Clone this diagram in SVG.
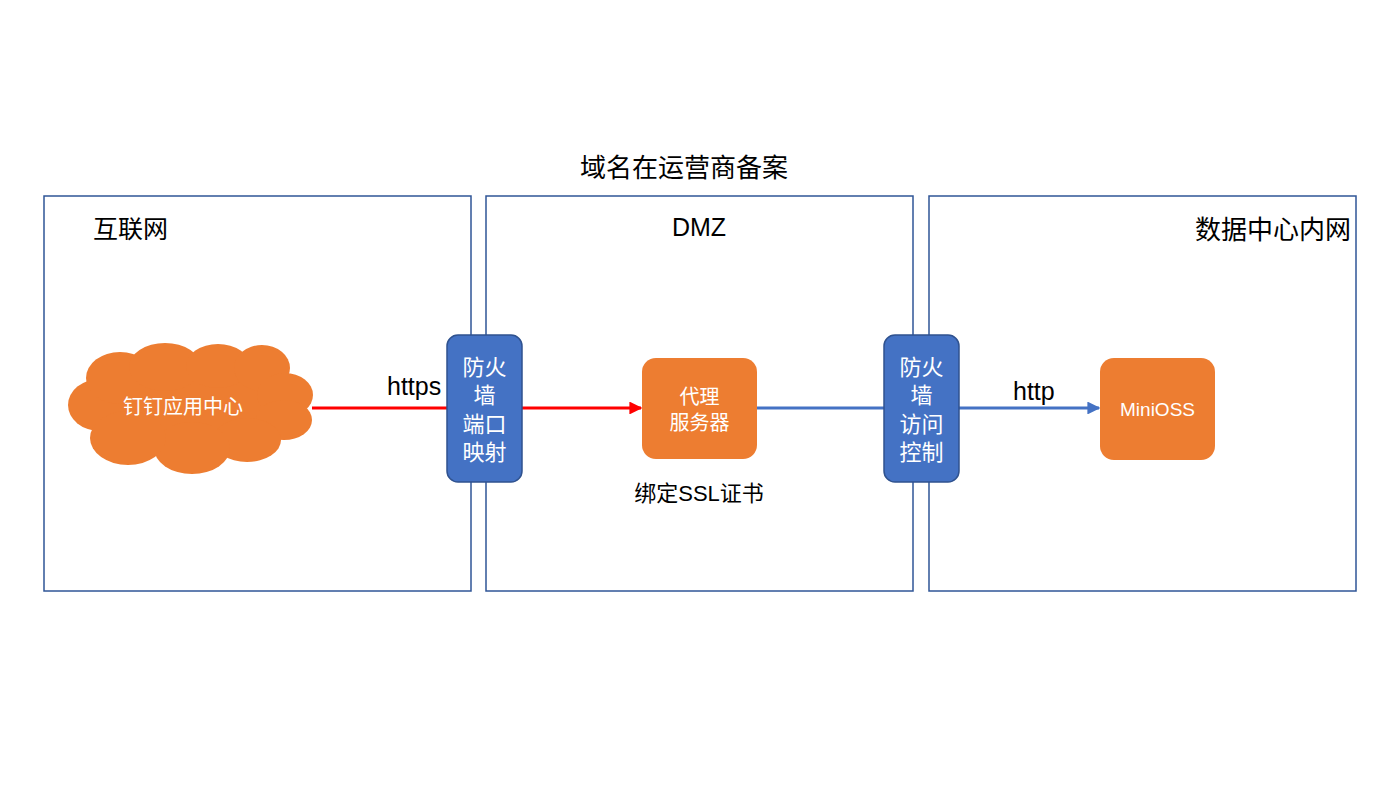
<svg xmlns="http://www.w3.org/2000/svg" width="1400" height="788" viewBox="0 0 1400 788">
<style>
text{font-family:"Liberation Sans","Noto Sans CJK SC",sans-serif;}
.zone{fill:none;stroke:#2F5597;stroke-width:1.5;}
.fw{fill:#4472C4;stroke:#2F528F;stroke-width:1.5;}
.fwt{fill:#fff;font-size:22px;text-anchor:middle;}
.org{fill:#ED7D31;}
.ot{fill:#fff;font-size:20px;text-anchor:middle;}
.lbl{fill:#000;font-size:25px;}
</style>
<defs>
<marker id="ar" viewBox="0 0 10 10" refX="9" refY="5" markerWidth="4.3" markerHeight="4.3" orient="auto"><path d="M0,0L10,5L0,10z" fill="#FF0000"/></marker>
<marker id="ab" viewBox="0 0 10 10" refX="9" refY="5" markerWidth="4.3" markerHeight="4.3" orient="auto"><path d="M0,0L10,5L0,10z" fill="#4472C4"/></marker>
</defs>
<rect width="1400" height="788" fill="#fff"/>
<text x="684" y="177" text-anchor="middle" style="font-size:26px">域名在运营商备案</text>
<g id="zone-internet"><rect class="zone" x="44" y="196" width="427" height="395"/><text class="lbl" x="93" y="238">互联网</text></g>
<g id="zone-dmz"><rect class="zone" x="486" y="196" width="427" height="395"/><text class="lbl" x="699" y="236" text-anchor="middle">DMZ</text></g>
<g id="zone-dc"><rect class="zone" x="929" y="196" width="427" height="395"/><text class="lbl" x="1351" y="239" text-anchor="end" style="font-size:26px">数据中心内网</text></g>
<g id="connectors">
<line x1="312" y1="408" x2="447" y2="408" stroke="#FF0000" stroke-width="3"/>
<line x1="522" y1="408" x2="641" y2="408" stroke="#FF0000" stroke-width="3" marker-end="url(#ar)"/>
<line x1="757" y1="408" x2="884" y2="408" stroke="#4472C4" stroke-width="3"/>
<line x1="959" y1="408" x2="1099" y2="408" stroke="#4472C4" stroke-width="3" marker-end="url(#ab)"/>
<text class="lbl" x="387" y="395">https</text>
<text class="lbl" x="1013" y="400">http</text>
</g>
<g id="cloud" class="org">
<ellipse cx="190" cy="408" rx="105" ry="50"/>
<ellipse cx="100" cy="405" rx="32" ry="26"/>
<ellipse cx="120" cy="378" rx="34" ry="26"/>
<ellipse cx="165" cy="367" rx="36" ry="24"/>
<ellipse cx="218" cy="366" rx="32" ry="22"/>
<ellipse cx="262" cy="368" rx="28" ry="23"/>
<ellipse cx="285" cy="395" rx="28" ry="22"/>
<ellipse cx="284" cy="420" rx="28" ry="20"/>
<ellipse cx="247" cy="440" rx="34" ry="22"/>
<ellipse cx="192" cy="448" rx="38" ry="26"/>
<ellipse cx="128" cy="438" rx="38" ry="27"/>
<text class="ot" x="183" y="414">钉钉应用中心</text>
</g>
<g id="fw1"><rect class="fw" x="447" y="335" width="75" height="147" rx="11"/>
<text class="fwt" x="484.5" y="375">防火</text><text class="fwt" x="484.5" y="403">墙</text><text class="fwt" x="484.5" y="432">端口</text><text class="fwt" x="484.5" y="460">映射</text></g>
<g id="proxy"><rect class="org" x="642" y="358" width="115" height="101" rx="14"/>
<text class="ot" x="699.5" y="404">代理</text><text class="ot" x="699.5" y="430">服务器</text>
<text x="699" y="501" text-anchor="middle" style="font-size:22px">绑定SSL证书</text></g>
<g id="fw2"><rect class="fw" x="884" y="335" width="75" height="147" rx="11"/>
<text class="fwt" x="921.5" y="375">防火</text><text class="fwt" x="921.5" y="403">墙</text><text class="fwt" x="921.5" y="432">访问</text><text class="fwt" x="921.5" y="460">控制</text></g>
<g id="minioss"><rect class="org" x="1100" y="358" width="115" height="102" rx="14"/>
<text class="ot" x="1157.5" y="416" style="font-size:19px">MiniOSS</text></g>
</svg>
